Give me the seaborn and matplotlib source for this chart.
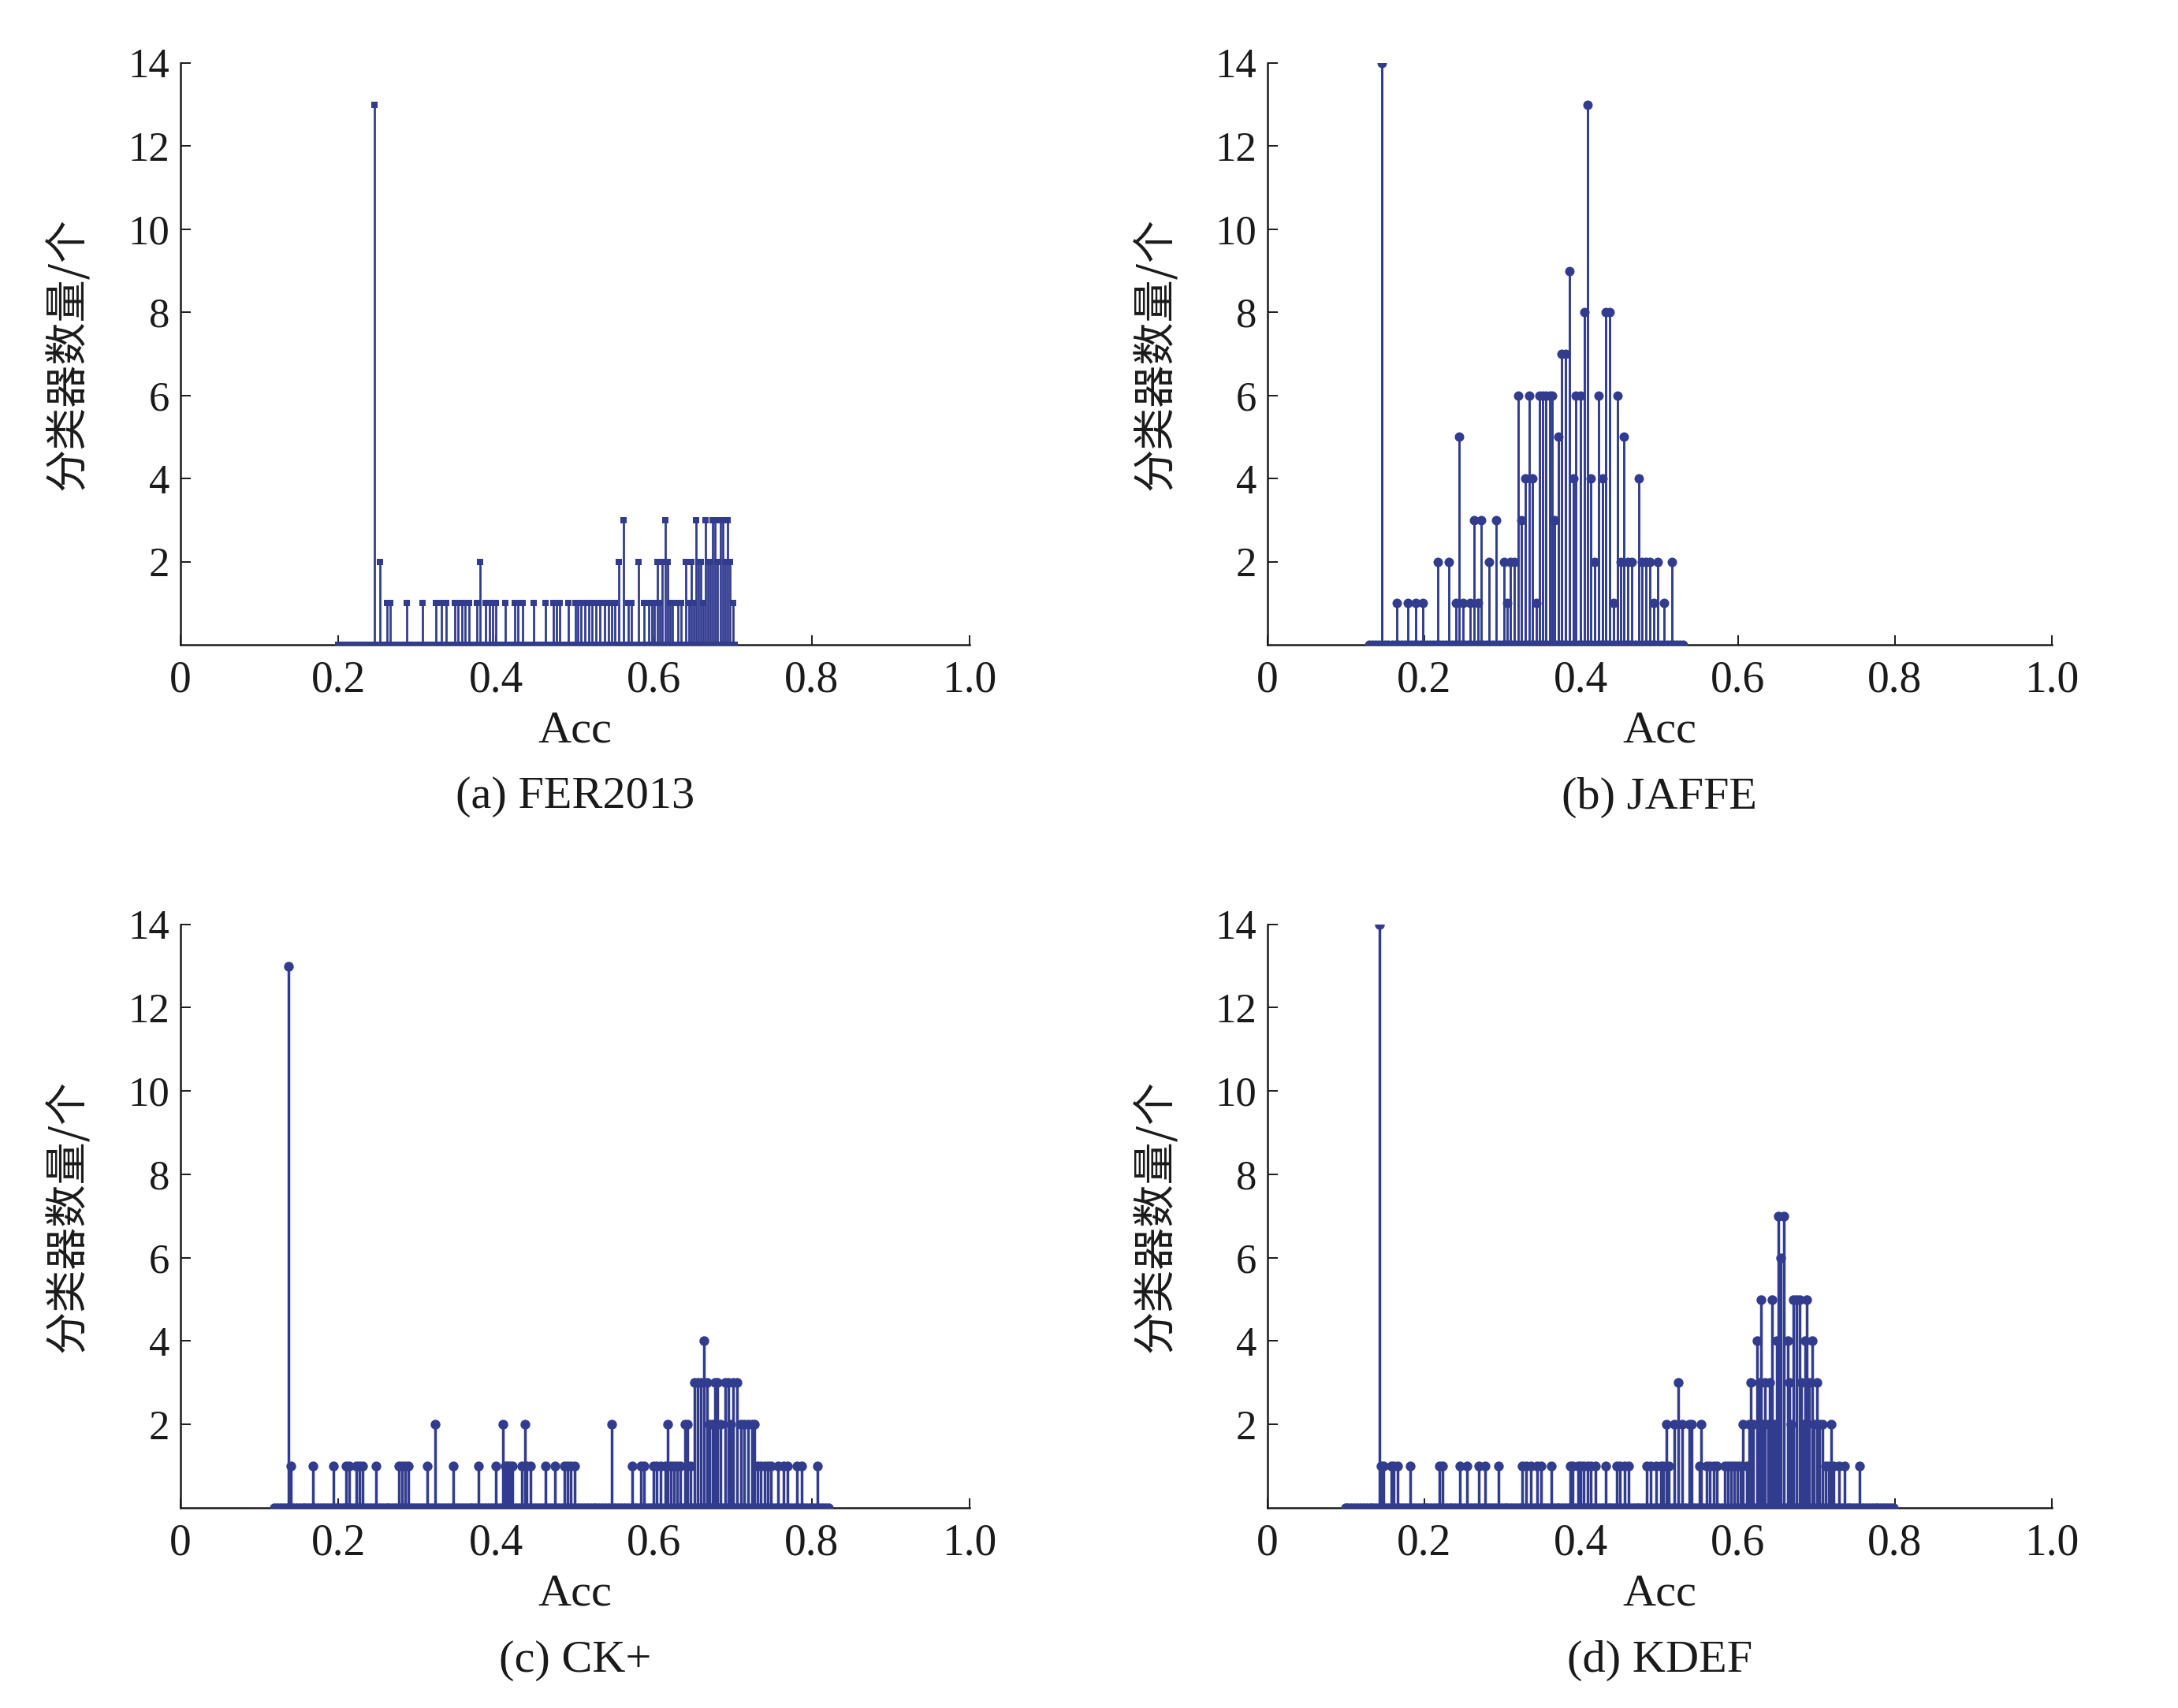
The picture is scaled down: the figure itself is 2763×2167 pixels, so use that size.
import numpy as np
import pandas as pd
import matplotlib
matplotlib.use("Agg")
import matplotlib.pyplot as plt
import seaborn as sns

# ---------------- data ----------------
# (a) FER2013
fer_acc = [0.246, 0.253, 0.262, 0.266, 0.287, 0.307, 0.324, 0.331, 0.337, 0.348,
           0.352, 0.357, 0.361, 0.366, 0.376, 0.380, 0.387, 0.392, 0.396, 0.400,
           0.412, 0.424, 0.428, 0.433, 0.447, 0.462, 0.472, 0.476, 0.480, 0.491,
           0.500, 0.503, 0.507, 0.512, 0.517, 0.521, 0.526, 0.531, 0.537, 0.542,
           0.546, 0.550, 0.555, 0.561, 0.567, 0.571, 0.580, 0.587, 0.593, 0.597,
           0.600, 0.604, 0.607, 0.610, 0.614, 0.617, 0.620, 0.623, 0.630, 0.634,
           0.640, 0.644, 0.647, 0.650, 0.653, 0.656, 0.659, 0.662, 0.665, 0.668,
           0.671, 0.674, 0.677, 0.680, 0.684, 0.687, 0.690, 0.693, 0.696, 0.700]
fer_cnt = [13, 2, 1, 1, 1, 1, 1, 1, 1, 1,
           1, 1, 1, 1, 1, 2, 1, 1, 1, 1,
           1, 1, 1, 1, 1, 1, 1, 1, 1, 1,
           1, 1, 1, 1, 1, 1, 1, 1, 1, 1,
           1, 1, 2, 3, 1, 1, 2, 1, 1, 1,
           1, 2, 1, 2, 3, 2, 1, 1, 1, 1,
           2, 1, 2, 1, 3, 2, 2, 1, 3, 2,
           2, 3, 3, 2, 3, 3, 2, 3, 2, 1]
fer_zero_range = (0.200, 0.702)

# (b) JAFFE
jaffe_acc = [0.1458, 0.1648, 0.1792, 0.1885, 0.1978, 0.2169, 0.2309, 0.2402, 0.2442, 0.2496,
             0.2582, 0.2636, 0.2679, 0.2725, 0.2822, 0.2916, 0.3013, 0.3056, 0.3099, 0.3149,
             0.3199, 0.3235, 0.3289, 0.3339, 0.3382, 0.3429, 0.3465, 0.3508, 0.3551, 0.3594,
             0.3630, 0.3659, 0.3713, 0.3752, 0.3803, 0.3846, 0.3896, 0.3935, 0.3989, 0.4036,
             0.4083, 0.4126, 0.4176, 0.4226, 0.4269, 0.4312, 0.4363, 0.4413, 0.4460, 0.4503,
             0.4546, 0.4593, 0.4646, 0.4736, 0.4779, 0.4826, 0.4873, 0.4923, 0.4973, 0.5059,
             0.5160]
jaffe_cnt = [14, 1, 1, 1, 1, 2, 2, 1, 5, 1,
             1, 3, 1, 3, 2, 3, 2, 1, 2, 2,
             6, 3, 4, 6, 4, 1, 6, 6, 6, 6,
             6, 3, 5, 7, 7, 9, 4, 6, 6, 8,
             13, 4, 2, 6, 4, 8, 8, 1, 6, 2,
             5, 2, 2, 4, 2, 2, 2, 1, 2, 1,
             2]
jaffe_zero_range = (0.130, 0.530)

# (c) CK+
ck_acc = [0.1368, 0.1401, 0.1678, 0.1942, 0.2102, 0.2142, 0.2229, 0.2269, 0.2309, 0.2475,
          0.2770, 0.2810, 0.2843, 0.2886, 0.3123, 0.3226, 0.3460, 0.3777, 0.3994, 0.4088,
          0.4120, 0.4150, 0.4180, 0.4210, 0.4321, 0.4361, 0.4388, 0.4431, 0.4621, 0.4748,
          0.4868, 0.4905, 0.4945, 0.4990, 0.5465, 0.5722, 0.5832, 0.5872, 0.5989, 0.6033,
          0.6079, 0.6139, 0.6173, 0.6213, 0.6253, 0.6293, 0.6333, 0.6390, 0.6423, 0.6466,
          0.6513, 0.6556, 0.6590, 0.6633, 0.6673, 0.6706, 0.6746, 0.6773, 0.6806, 0.6847,
          0.6906, 0.6940, 0.6973, 0.7006, 0.7056, 0.7100, 0.7140, 0.7190, 0.7240, 0.7273,
          0.7313, 0.7356, 0.7400, 0.7440, 0.7480, 0.7568, 0.7641, 0.7691, 0.7815, 0.7875,
          0.8075]
ck_cnt = [13, 1, 1, 1, 1, 1, 1, 1, 1, 1,
          1, 1, 1, 1, 1, 2, 1, 1, 1, 2,
          1, 1, 1, 1, 1, 2, 1, 1, 1, 1,
          1, 1, 1, 1, 2, 1, 1, 1, 1, 1,
          1, 1, 2, 1, 1, 1, 1, 2, 2, 1,
          3, 3, 3, 4, 3, 2, 2, 3, 3, 2,
          3, 3, 2, 3, 3, 2, 2, 2, 2, 2,
          1, 1, 1, 1, 1, 1, 1, 1, 1, 1,
          1]
ck_zero_range = (0.119, 0.821)

# (d) KDEF
kdef_acc = [0.1426, 0.1443, 0.1476, 0.1580, 0.1610, 0.1655, 0.1814, 0.2196, 0.2236, 0.2449,
            0.2541, 0.2693, 0.2777, 0.2946, 0.3250, 0.3300, 0.3358, 0.3436, 0.3486, 0.3622,
            0.3858, 0.3892, 0.3959, 0.3993, 0.4034, 0.4078, 0.4122, 0.4179, 0.4314, 0.4449,
            0.4493, 0.4551, 0.4601, 0.4838, 0.4889, 0.4956, 0.5017, 0.5051, 0.5084, 0.5118,
            0.5185, 0.5242, 0.5286, 0.5377, 0.5411, 0.5505, 0.5529, 0.5599, 0.5640, 0.5690,
            0.5734, 0.5835, 0.5875, 0.5909, 0.5949, 0.5993, 0.6027, 0.6061, 0.6111, 0.6145,
            0.6162, 0.6195, 0.6246, 0.6273, 0.6290, 0.6320, 0.6347, 0.6387, 0.6407, 0.6431,
            0.6465, 0.6498, 0.6515, 0.6549, 0.6589, 0.6633, 0.6650, 0.6673, 0.6700, 0.6744,
            0.6785, 0.6801, 0.6835, 0.6852, 0.6879, 0.6902, 0.6946, 0.6970, 0.7003, 0.7037,
            0.7081, 0.7121, 0.7155, 0.7189, 0.7222, 0.7290, 0.7357, 0.7549]
kdef_cnt = [14, 1, 1, 1, 1, 1, 1, 1, 1, 1,
            1, 1, 1, 1, 1, 1, 1, 1, 1, 1,
            1, 1, 1, 1, 1, 1, 1, 1, 1, 1,
            1, 1, 1, 1, 1, 1, 1, 1, 2, 1,
            2, 3, 2, 2, 2, 1, 2, 1, 1, 1,
            1, 1, 1, 1, 1, 1, 1, 2, 1, 2,
            3, 2, 4, 3, 5, 2, 3, 2, 3, 5,
            2, 4, 7, 6, 7, 4, 3, 2, 5, 5,
            5, 3, 2, 4, 5, 3, 4, 2, 3, 2,
            2, 1, 1, 2, 1, 1, 1, 1]
kdef_zero_range = (0.099, 0.798)

x_ticks = [0, 0.2, 0.4, 0.6, 0.8, 1.0]
x_tick_labels = ["0", "0.2", "0.4", "0.6", "0.8", "1.0"]
y_ticks = [2, 4, 6, 8, 10, 12, 14]
y_label = "分类器数量/个"
x_label = "Acc"
titles = ["(a) FER2013", "(b) JAFFE", "(c) CK+", "(d) KDEF"]

# ---------------- style ----------------
sns.set_theme(style="ticks")
plt.rcParams['font.family'] = ['Liberation Serif', 'Noto Sans CJK SC', 'DejaVu Sans']
plt.rcParams['axes.unicode_minus'] = False

COLOR = "#323c8f"
AXCOL = "#1a1a1a"

fig = plt.figure(figsize=(27.63, 21.67), dpi=100)
fig.patch.set_facecolor("white")

positions = [
    [0.0829, 0.6225, 0.3623, 0.3406],
    [0.5820, 0.6225, 0.3600, 0.3406],
    [0.0829, 0.1173, 0.3623, 0.3415],
    [0.5820, 0.1173, 0.3600, 0.3415],
]

panels = [
    (fer_acc, fer_cnt, fer_zero_range, 110, "s", 40, 2.0),
    (jaffe_acc, jaffe_cnt, jaffe_zero_range, 100, "o", 75, 2.1),
    (ck_acc, ck_cnt, ck_zero_range, 180, "o", 80, 2.5),
    (kdef_acc, kdef_cnt, kdef_zero_range, 180, "o", 80, 2.5),
]

for pos, (acc, cnt, zr, nzero, mk, ms, lw), title in zip(positions, panels, titles):
    ax = fig.add_axes(pos)
    ax.set_facecolor("white")
    df = pd.DataFrame({"acc": acc, "count": cnt})
    zeros = pd.DataFrame({"acc": np.linspace(zr[0], zr[1], nzero), "count": 0})
    # stems
    ax.vlines(df["acc"], 0, df["count"], color=COLOR, lw=lw, zorder=2)
    # markers (zero bins form the thick baseline)
    allpts = pd.concat([zeros, df], ignore_index=True)
    sns.scatterplot(data=allpts, x="acc", y="count", marker=mk, s=ms,
                    color=COLOR, edgecolor=COLOR, linewidth=0, ax=ax,
                    zorder=3, legend=False)
    ax.set_xlim(0, 1.0)
    ax.set_ylim(0, 14)
    ax.set_xticks(x_ticks)
    ax.set_xticklabels(x_tick_labels)
    ax.set_yticks(y_ticks)
    ax.set_yticklabels([str(t) for t in y_ticks])
    sns.despine(ax=ax)
    for sp in ["left", "bottom"]:
        ax.spines[sp].set_color(AXCOL)
        ax.spines[sp].set_linewidth(1.8)
    ax.tick_params(axis="both", direction="in", length=9, width=1.4, color=AXCOL,
                   labelcolor=AXCOL)
    ax.tick_params(axis="x", labelsize=40, pad=14)
    ax.tick_params(axis="y", labelsize=38, pad=10)
    ax.set_xlabel(x_label, fontsize=42, color=AXCOL)
    ax.xaxis.set_label_coords(0.5, -0.148)
    ax.xaxis.label.set_va("center")
    ax.set_ylabel(y_label, fontsize=39, color=AXCOL,
                  family=['Noto Sans CJK SC', 'DejaVu Sans'])
    ax.yaxis.set_label_coords(-0.143, 0.5)
    ax.yaxis.label.set_va("center")
    ax.text(0.5, -0.262, title, transform=ax.transAxes, ha="center", va="center",
            fontsize=42, color=AXCOL)
    ax.grid(False)

fig.savefig("out.png", dpi=100, facecolor="white")
